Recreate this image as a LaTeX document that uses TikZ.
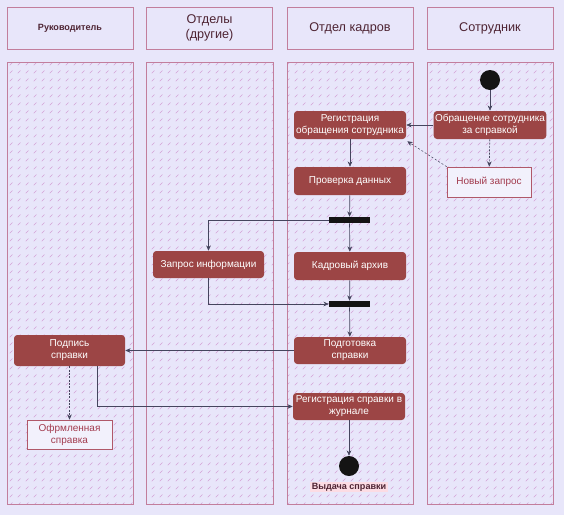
\documentclass[tikz,border=0pt]{standalone}
\usepackage{fontspec}
\setmainfont{Liberation Sans}
\usetikzlibrary{arrows.meta,patterns,calc}
\definecolor{bgcol}{HTML}{E8E6FA}
\definecolor{lanecol}{HTML}{C27E9C}
\definecolor{actcol}{HTML}{9C4545}
\definecolor{headtxt}{HTML}{4E2433}
\definecolor{linecol}{HTML}{45455E}
\definecolor{objtxt}{HTML}{A23B4E}
\definecolor{hatchcol}{HTML}{D4A2D6}
\definecolor{lblbg}{HTML}{FCDCE4}

\pgfdeclarepatternformonly{lanehatch}{\pgfqpoint{0pt}{0pt}}{\pgfqpoint{6.3pt}{6.3pt}}{\pgfqpoint{6.3pt}{6.3pt}}{%
  \pgfsetlinewidth{0.55pt}%
  \pgfpathmoveto{\pgfqpoint{1.4pt}{1.4pt}}%
  \pgfpathlineto{\pgfqpoint{3.6pt}{3.6pt}}%
  \pgfusepath{stroke}}

\tikzset{
  lane/.style={draw=lanecol,line width=0.6pt,pattern=lanehatch,pattern color=hatchcol},
  head/.style={draw=lanecol,line width=0.6pt,minimum width=94.5pt,minimum height=31.5pt,
    inner sep=1pt,align=center,text=headtxt,font=\fontsize{9.5}{11}\selectfont},
  act/.style={fill=actcol,rounded corners=2.5pt,text=white,align=center,inner sep=1pt,
    minimum width=84pt,minimum height=21pt,font=\fontsize{7.5}{9}\selectfont},
  obj/.style={draw=objtxt!85,line width=0.5pt,fill=white!45!bgcol,text=objtxt,align=center,
    inner sep=1pt,font=\fontsize{7.5}{9}\selectfont},
  bar/.style={fill=black!92,minimum width=30.75pt,minimum height=4.5pt,inner sep=0pt},
  dot/.style={circle,fill=black!92,minimum size=15pt,inner sep=0pt},
  flow/.style={draw=linecol,line width=0.5pt,-{Stealth[length=4pt,width=3.5pt]}}
}

\begin{document}
\begin{tikzpicture}[x=0.75pt,y=-0.75pt]
    \fill[bgcol](0,0)rectangle(564,515);
    % swimlanes
    \draw[lane](7,62)rectangle(133,504);
    \draw[lane](146,62)rectangle(273,504);
    \draw[lane](287,62)rectangle(413,504);
    \draw[lane](427,62)rectangle(553,504);
    \node[head,font=\fontsize{6.8}{8}\selectfont\bfseries](hRuk)at(70,28){Руководитель};
    \node[head](hOtd)at(209.5,28){Отделы\\(другие)};
    \node[head](hKadr)at(350,28){Отдел кадров};
    \node[head](hSotr)at(490,28){Сотрудник};
    % activities
    \node[dot](start)at(490,80){};
    \node[act](obr)at(490,125){Обращение сотрудника\\за справкой};
    \node[obj,minimum width=63pt,minimum height=22.5pt](novyi)at(489,182){Новый запрос};
    \node[act](reg)at(350,125){Регистрация\\обращения сотрудника};
    \node[act](prov)at(350,181){Проверка данных};
    \node[bar](fork)at(349.5,220){};
    \node[act,minimum width=83.25pt,minimum height=20.25pt](zapros)at(208.5,264.5){Запрос информации};
    \node[act](arch)at(350,266){Кадровый архив};
    \node[bar](join)at(349.5,304){};
    \node[act,minimum height=20.25pt](podg)at(350,350.5){Подготовка\\справки};
    \node[act,minimum width=83.25pt,minimum height=23.25pt](podp)at(69.5,350.5){Подпись\\справки};
    \node[obj,minimum width=63.75pt,minimum height=21.75pt](oform)at(69.5,434.5){Офрмленная\\справка};
    \node[act,minimum height=20.25pt](regspr)at(349,406.5){Регистрация справки в\\журнале};
    \node[dot](finish)at(349,466){};
    \node[fill=lblbg,text=headtxt,inner sep=1pt,font=\fontsize{6.8}{8}\selectfont\bfseries](vyd)at(349,487){Выдача справки};
    % flows
    \draw[flow](start)--(obr);
    \draw[flow](obr)--(reg);
    \draw[flow,dash pattern=on 1.5pt off 1pt](obr)--(novyi);
    \draw[flow,dash pattern=on 1.5pt off 1.5pt,line width=0.4pt](novyi.north west)--($(reg.south east)+(1,2)$);
    \draw[flow](reg)--(prov);
    \draw[flow](prov)--(fork);
    \draw[flow](fork.west)-|(zapros.north);
    \draw[flow](fork)--(arch);
    \draw[flow](arch)--(join);
    \draw[flow](zapros.south)|-(join.west);
    \draw[flow](join)--(podg);
    \draw[flow](podg.west)--(podp.east);
    \draw[flow,dash pattern=on 1.5pt off 1pt](podp)--(oform);
    \draw[flow]($(podp.south)+(28,0)$)|-(regspr.west);
    \draw[flow](regspr)--(finish);
\end{tikzpicture}
\end{document}
